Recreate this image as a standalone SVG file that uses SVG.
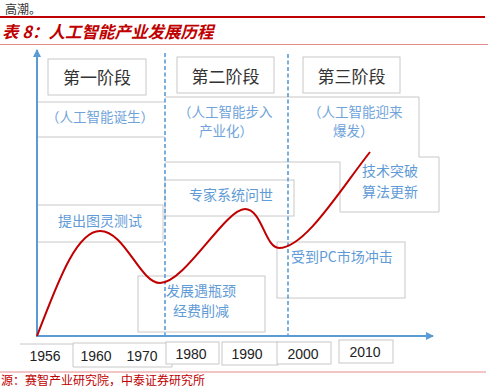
<svg xmlns="http://www.w3.org/2000/svg" width="488" height="387" viewBox="0 0 488 387">
<style>
.cj{font-family:"Noto Sans CJK SC","Noto Sans",sans-serif}
.stage{font-size:17px;fill:#333}
.sub{font-size:13.5px;fill:#6fa3da}
.lbl{font-size:14px;fill:#5f9bd6}
.yr{font-family:"Liberation Sans",Arial,sans-serif;font-size:14px;fill:#222;text-anchor:middle}
.box{fill:#fff;stroke:#c8c8c8;stroke-width:1}
.edge{fill:none;stroke:#c8c8c8;stroke-width:1}
.axis{stroke:#5b9bd5;stroke-width:2;fill:none}
.dash{stroke:#5b9bd5;stroke-width:1.6;stroke-dasharray:4 2.5;fill:none}
</style>
<defs>
<marker id="ah" markerWidth="8" markerHeight="8" refX="7" refY="4" orient="auto" markerUnits="userSpaceOnUse">
<path d="M0,0 L8,4 L0,8 Z" fill="#5b9bd5"/>
</marker>
</defs>
<rect width="488" height="387" fill="#fff"/>
<!-- page header -->
<text class="cj" x="5" y="14" font-size="12" fill="#333">高潮。</text>
<rect x="0" y="16" width="485" height="2" fill="#c00000"/>
<text class="cj" x="2" y="37.5" font-size="16.5" font-weight="bold" font-style="italic" fill="#c00000">表 8：人工智能产业发展历程</text>
<line x1="0" y1="44.5" x2="488" y2="44.5" stroke="#e58c8c" stroke-width="1"/>

<!-- description boxes (background) -->
<g id="desc1">
<path class="edge" d="M37,102 H165 M37,137 H165"/>
<text class="cj sub" x="100" y="122" text-anchor="middle">（人工智能诞生）</text>
</g>
<g id="desc2">
<path class="edge" d="M165,97 H288 M165,162 H288"/>
<text class="cj sub" x="178" y="117">（人工智能步入</text>
<text class="cj sub" x="199" y="136">产业化）</text>
</g>
<g id="desc3">
<path class="edge" d="M288,97 H419 V157 M288,162 H340"/>
<text class="cj sub" x="308" y="117">（人工智能迎来</text>
<text class="cj sub" x="333" y="136">爆发）</text>
</g>
<g id="tech">
<path class="edge" d="M419,157 H439 V212 H340 V162"/>
<text class="cj lbl" x="362" y="176">技术突破</text>
<text class="cj lbl" x="362" y="197">算法更新</text>
</g>
<g id="turing">
<path class="edge" d="M37,205 H163 V242 H37"/>
<text class="cj lbl" x="100" y="226" text-anchor="middle">提出图灵测试</text>
</g>
<g id="expert">
<rect class="box" x="165" y="180" width="129" height="36"/>
<text class="cj lbl" x="231" y="200" text-anchor="middle">专家系统问世</text>
</g>
<g id="bottleneck">
<rect class="box" x="138" y="276" width="127" height="56"/>
<text class="cj lbl" x="166" y="296">发展遇瓶颈</text>
<text class="cj lbl" x="173" y="316">经费削减</text>
</g>
<g id="pc">
<rect class="box" x="277" y="242" width="128" height="56"/>
<text class="cj lbl" x="291" y="262">受到PC市场冲击</text>
</g>

<!-- stage titles -->
<g id="stage1">
<rect class="box" x="48" y="59" width="98" height="36"/>
<text class="cj stage" x="97" y="83.5" text-anchor="middle">第一阶段</text>
</g>
<g id="stage2">
<rect class="box" x="177" y="57" width="97" height="36"/>
<text class="cj stage" x="225.5" y="82.5" text-anchor="middle">第二阶段</text>
</g>
<g id="stage3">
<rect class="box" x="303" y="57" width="97" height="36"/>
<text class="cj stage" x="351.5" y="82.5" text-anchor="middle">第三阶段</text>
</g>

<!-- year labels -->
<g id="y1956">
<path class="edge" d="M20,344 H73"/>
<text class="yr" x="45" y="361">1956</text>
</g>
<g id="y1960-1970">
<path class="edge" d="M73,343 H166 M73,343 V367 H172 V362"/>
<text class="yr" x="96" y="361">1960</text>
<text class="yr" x="142" y="361">1970</text>
</g>
<g id="y1980">
<rect class="box" x="166" y="342" width="53" height="22"/>
<text class="yr" x="191" y="359">1980</text>
</g>
<g id="y1990">
<rect class="box" x="222" y="342" width="56" height="23"/>
<text class="yr" x="247" y="359">1990</text>
</g>
<g id="y2000">
<rect class="box" x="277" y="342" width="54" height="22"/>
<text class="yr" x="303" y="359">2000</text>
</g>
<g id="y2010">
<rect class="box" x="339" y="340" width="54" height="23"/>
<text class="yr" x="365" y="357">2010</text>
</g>

<!-- connectors: axes, stage dividers, curve -->
<g id="connectors">
<line class="dash" x1="165" y1="53" x2="165" y2="336"/>
<line class="dash" x1="288" y1="54" x2="288" y2="336"/>
<line class="axis" x1="37" y1="337" x2="37" y2="50" marker-end="url(#ah)"/>
<line class="axis" x1="36" y1="336" x2="433" y2="336" marker-end="url(#ah)"/>
<path d="M37,336 C55,290 75,231 100,231 C125,231 140,283 160,283 C185,283 225,209 245,209 C262,209 265,248 279,248 C305,248 340,190 370,152" fill="none" stroke="#c00000" stroke-width="2"/>
</g>

<!-- footer -->
<line x1="0" y1="372" x2="486" y2="372" stroke="#e58c8c" stroke-width="1"/>
<text class="cj" x="1" y="384.5" font-size="12" fill="#c00000">源：赛智产业研究院，中泰证券研究所</text>
</svg>
